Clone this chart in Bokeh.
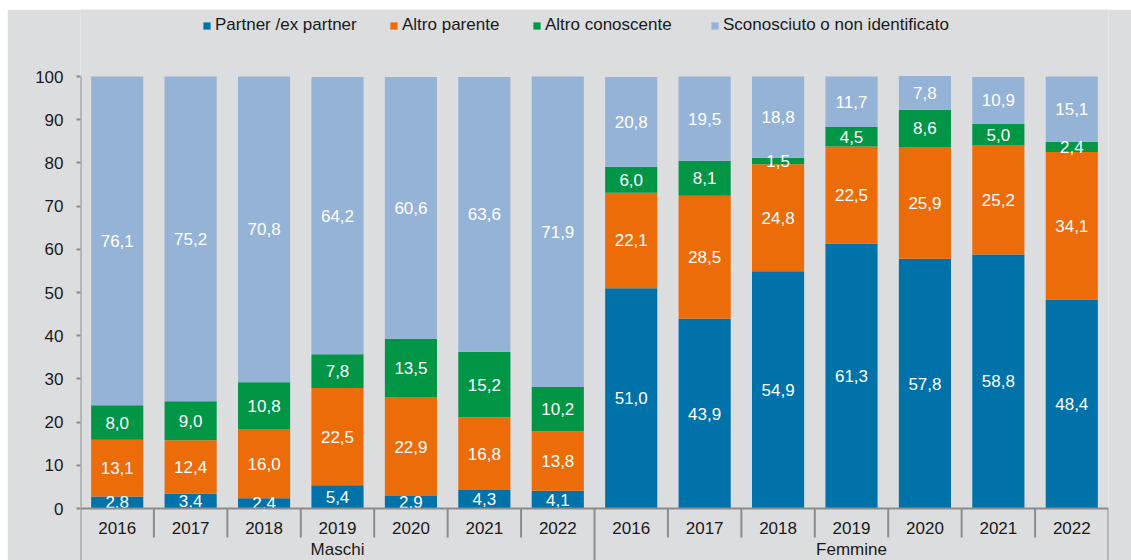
from bokeh.plotting import figure
from bokeh.models import (Range1d, FixedTicker, Legend, LegendItem, ColumnDataSource)
from bokeh.core.properties import value
from bokeh.embed import file_html
from bokeh.resources import INLINE

# ---------------- data ----------------
groups = ["Maschi", "Femmine"]
years = ["2016", "2017", "2018", "2019", "2020", "2021", "2022"]
series = ["Partner /ex partner", "Altro parente", "Altro conoscente",
          "Sconosciuto o non identificato"]
partner = [2.8, 3.4, 2.4, 5.4, 2.9, 4.3, 4.1,
           51.0, 43.9, 54.9, 61.3, 57.8, 58.8, 48.4]
parente = [13.1, 12.4, 16.0, 22.5, 22.9, 16.8, 13.8,
           22.1, 28.5, 24.8, 22.5, 25.9, 25.2, 34.1]
conoscente = [8.0, 9.0, 10.8, 7.8, 13.5, 15.2, 10.2,
              6.0, 8.1, 1.5, 4.5, 8.6, 5.0, 2.4]
sconosciuto = [76.1, 75.2, 70.8, 64.2, 60.6, 63.6, 71.9,
               20.8, 19.5, 18.8, 11.7, 7.8, 10.9, 15.1]
y_ticks = [0, 10, 20, 30, 40, 50, 60, 70, 80, 90, 100]

colors = ["#0072AA", "#EC6C0A", "#009646", "#95B3D7"]
BG = "#DCDDDF"
AX = "#8C8C8C"
FONT = "Liberation Sans"
FS = "17px"

# ---------------- geometry ----------------
n = len(groups) * len(years)
W, H = 1124, 551
left, right = 73, 23
px_per_unit = 4.32
zero_px = 499           # pixel row (figure coords) of value 0
top_px = 67             # pixel row of value 100
y_top = 100 + top_px / px_per_unit
y_bot = -(H - zero_px) / px_per_unit

p = figure(width=W, height=H, output_backend="svg", toolbar_location=None,
           x_range=Range1d(0, n), y_range=Range1d(y_bot, y_top),
           x_axis_location=None, min_border_left=left, min_border_right=right,
           min_border_top=0, min_border_bottom=0, margin=(9, 0, 0, 7))
p.background_fill_color = BG
p.border_fill_color = BG
p.outline_line_color = None
p.grid.visible = False

xs = [i + 0.5 for i in range(n)]
data = {"x": xs}
keys = ["partner", "parente", "conoscente", "sconosciuto"]
vals = [partner, parente, conoscente, sconosciuto]
for k, v in zip(keys, vals):
    data[k] = v
src = ColumnDataSource(data)
rs = p.vbar_stack(keys, x="x", width=0.71, source=src, color=colors,
                  line_color=None)

# data labels
lx, ly, lt = [], [], []
for i in range(n):
    base = 0.0
    for v in vals:
        val = v[i]
        lx.append(xs[i])
        ly.append(base + val / 2)
        lt.append(f"{val:.1f}".replace(".", ","))
        base += val
p.text(x=lx, y=ly, text=lt, text_color="white", text_align="center",
       text_baseline="middle", text_font=value(FONT), text_font_size=FS)

# y axis
ax = p.yaxis[0]
ax.ticker = FixedTicker(ticks=y_ticks)
ax.axis_line_color = None
ax.major_tick_out = 4
ax.major_tick_in = 0
ax.minor_tick_line_color = None
ax.major_tick_line_color = AX
ax.major_tick_line_width = 2
ax.major_label_text_font = FONT
ax.major_label_text_font_size = FS
ax.major_label_text_color = "#1A1A1A"
ax.major_label_standoff = 13

# hand-drawn category axis
p.segment(x0=[0], y0=[0], x1=[n], y1=[0], line_color=AX, line_width=2)
p.segment(x0=[0], y0=[100], x1=[0], y1=[y_bot], line_color=AX, line_width=2)
ng = len(years)
gb = [ng * g for g in range(1, len(groups) + 1)]
p.segment(x0=gb, y0=[0] * len(gb), x1=gb, y1=[y_bot] * len(gb),
          line_color=AX, line_width=2)
yb = [i for i in range(1, n) if i % ng != 0]
sep_len = -29 / px_per_unit
p.segment(x0=yb, y0=[0] * len(yb), x1=yb, y1=[sep_len] * len(yb),
          line_color=AX, line_width=2)
p.text(x=xs, y=[-19 / px_per_unit] * n, text=years * len(groups),
       text_align="center", text_baseline="middle", text_color="#1A1A1A",
       text_font=value(FONT), text_font_size=FS)
gx = [ng * g + ng / 2 for g in range(len(groups))]
p.text(x=gx, y=[-50 / px_per_unit] * len(groups), text=groups,
       text_align="center", text_baseline="bottom", text_color="#1A1A1A",
       text_font=value(FONT), text_font_size=FS)

# legends (one per entry, positioned like the original)
leg_x = [122, 309, 452, 630]
for r, lab, lxp in zip(rs, series, leg_x):
    lg = Legend(items=[LegendItem(label=lab, renderers=[r])],
                location=(lxp, H - 6 - 20), orientation="horizontal",
                glyph_width=9, glyph_height=9, label_standoff=4,
                label_height=20, padding=0, margin=0, spacing=0,
                label_text_font=FONT, label_text_font_size=FS,
                label_text_color="#1A1A1A",
                background_fill_alpha=0, border_line_alpha=0)
    p.add_layout(lg, "center")

open("out.html", "w").write(file_html(p, INLINE))
